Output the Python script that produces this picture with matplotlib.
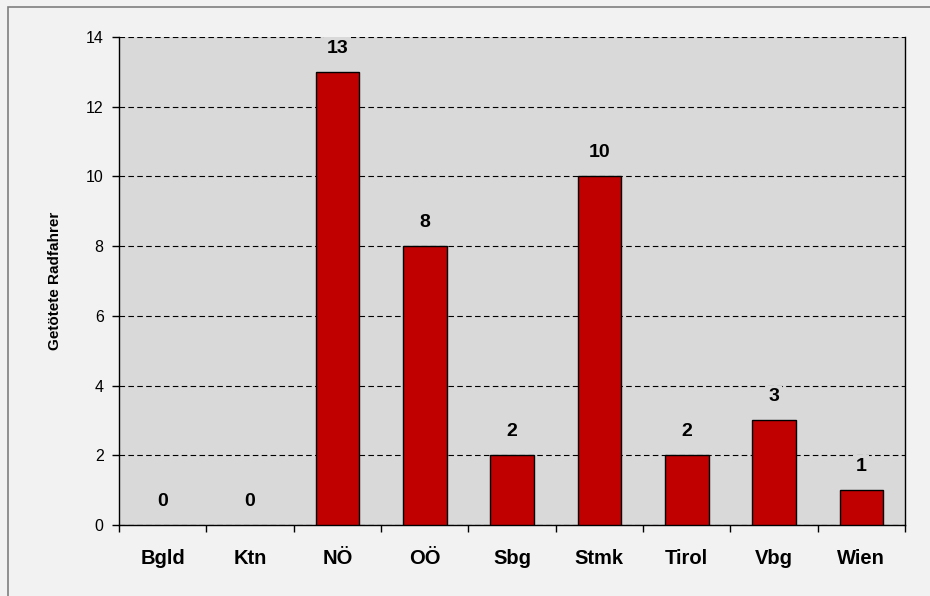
import matplotlib.pyplot as plt
from matplotlib.patches import Rectangle

plt.rcParams['font.family'] = ['Liberation Sans', 'DejaVu Sans']

laender = ['Bgld', 'Ktn', 'NÖ', 'OÖ', 'Sbg', 'Stmk', 'Tirol', 'Vbg', 'Wien']
getoetete = [0, 0, 13, 8, 2, 10, 2, 3, 1]
y_ticks = [0, 2, 4, 6, 8, 10, 12, 14]

fig = plt.figure(figsize=(9.3, 5.96), dpi=100, facecolor='#F2F2F2')
# outer frame, only left and top edge are inside the picture
fig.patches.append(Rectangle((8 / 930, -0.1), 1.2, 1.1 - 7 / 596, transform=fig.transFigure,
                             facecolor='none', edgecolor='#7F7F7F', linewidth=1.2, zorder=0))

ax = fig.add_axes([119 / 930, 71 / 596, (905 - 119) / 930, (525 - 37) / 596])
ax.set_facecolor('#D9D9D9')

x = range(len(laender))
lw = [1 if v > 0 else 0 for v in getoetete]
ax.bar(x, getoetete, width=0.5, color='#C00000', edgecolor='black', linewidth=lw, zorder=3)

for xi, v in zip(x, getoetete):
    ax.annotate(str(v), (xi, v), xytext=(0, 17), textcoords='offset points',
                ha='center', va='center', fontsize=14, fontweight='bold',
                bbox=dict(facecolor='#D9D9D9', edgecolor='none', pad=2), zorder=4)

ax.set_xlim(-0.5, len(laender) - 0.5)
ax.set_ylim(0, 14)
ax.set_yticks(y_ticks)
ax.tick_params(axis='y', labelsize=11.5, length=5, width=1, direction='out', pad=6)
ax.yaxis.grid(True, linestyle=(0, (5, 3)), color='black', linewidth=0.8, zorder=1)
ax.set_axisbelow(True)

ax.set_xticks(x)
ax.set_xticklabels(laender, fontsize=14.5, fontweight='bold')
ax.tick_params(axis='x', length=0, pad=17)
ax.set_xticks([i - 0.5 for i in range(len(laender) + 1)], minor=True)
ax.tick_params(axis='x', which='minor', length=5, width=1, direction='out')

ax.spines['top'].set_visible(False)
for s in ['left', 'bottom', 'right']:
    ax.spines[s].set_linewidth(1)

ax.set_ylabel('Getötete Radfahrer', fontsize=11, fontweight='bold', labelpad=17)

fig.savefig('out.png', dpi=100, facecolor=fig.get_facecolor())
